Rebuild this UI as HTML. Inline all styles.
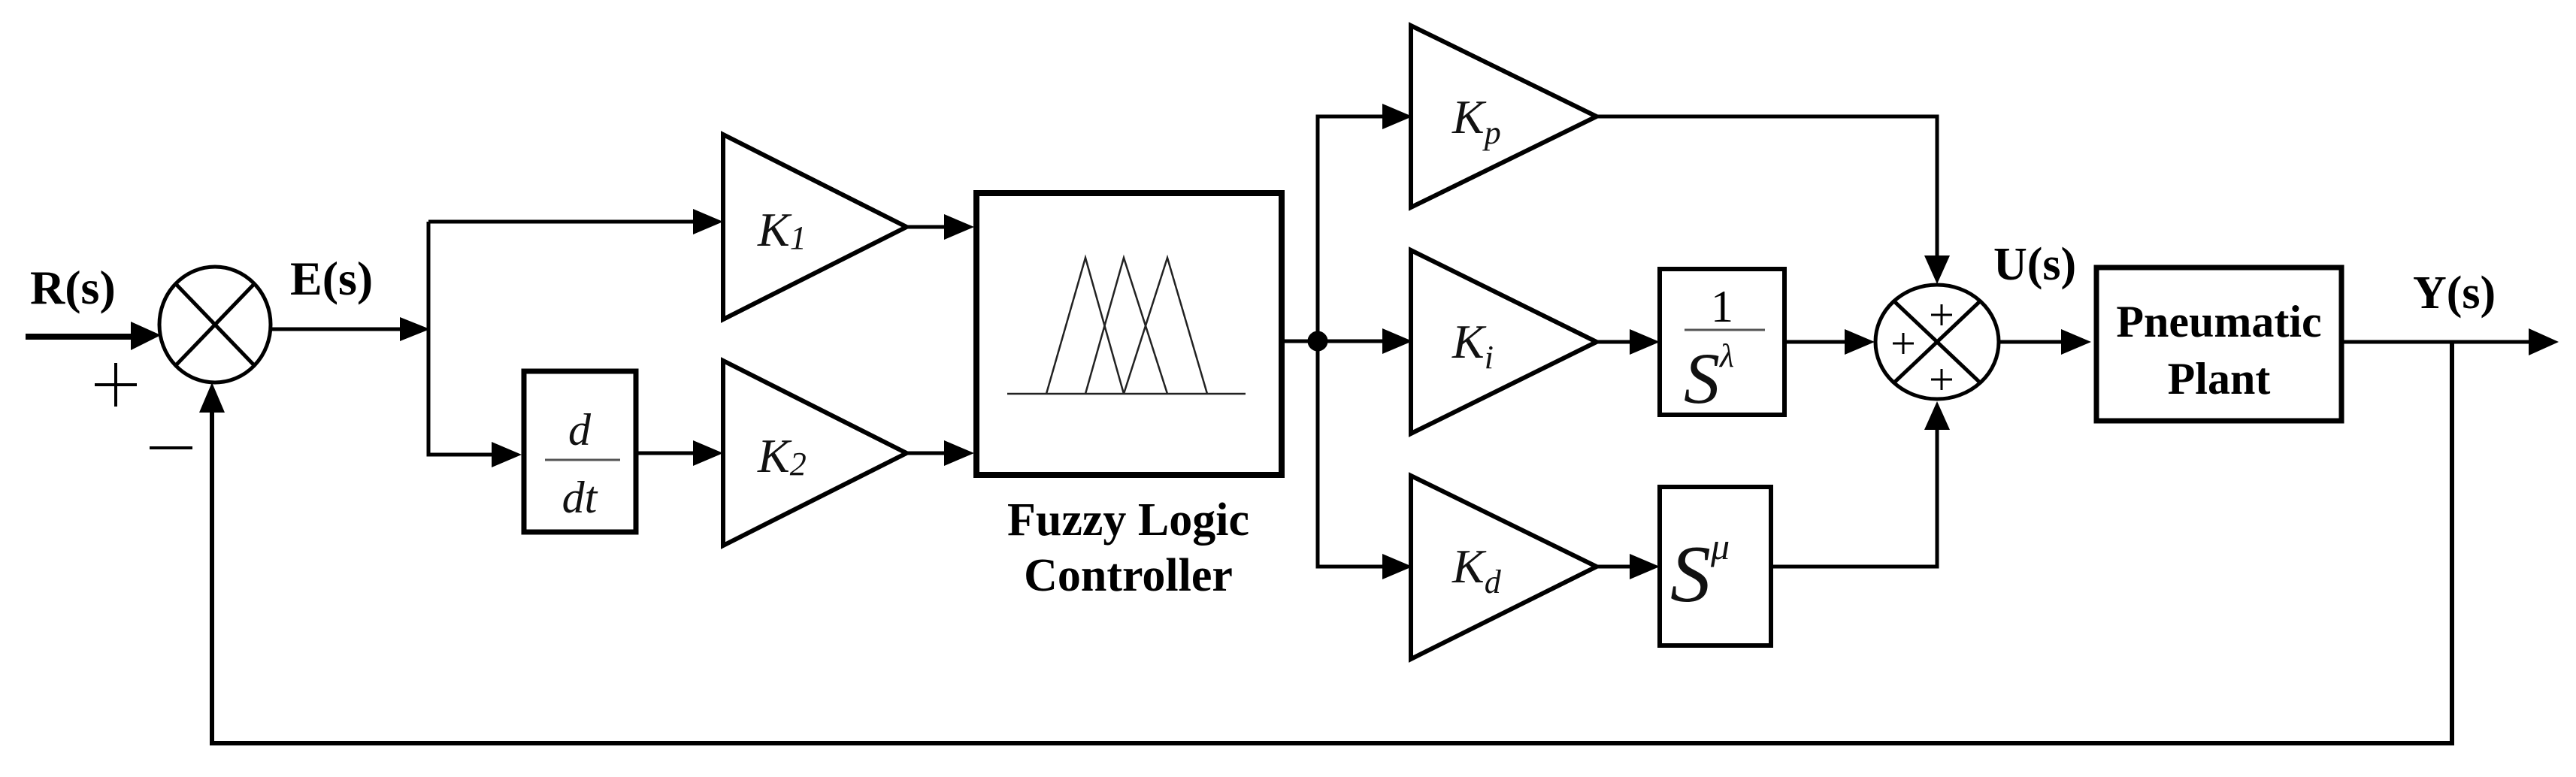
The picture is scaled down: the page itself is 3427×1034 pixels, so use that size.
<!DOCTYPE html>
<html><head><meta charset="utf-8"><style>
html,body{margin:0;padding:0;background:#fff;}
svg{display:block;}
.b{font-family:"Liberation Serif",serif;font-weight:bold;fill:#000;}
.i{font-family:"Liberation Serif",serif;font-style:italic;fill:#111;}
</style></head><body>
<svg width="3427" height="1034" viewBox="0 0 3427 1034" xmlns="http://www.w3.org/2000/svg">
<g stroke="#000" fill="none" stroke-width="5">
<line x1="34" y1="448" x2="180" y2="448" stroke-width="8"/>
<polygon points="214,446 174,428 174,466" fill="#000" stroke="none"/>
<ellipse cx="286" cy="432" rx="74" ry="77"/>
<line x1="234" y1="378" x2="338" y2="486"/>
<line x1="338" y1="378" x2="234" y2="486"/>
<line x1="360" y1="438" x2="540" y2="438"/>
<polygon points="572,438 532,422 532,454" fill="#000" stroke="none"/>
<polyline points="570,295 570,605 660,605"/>
<line x1="570" y1="295" x2="930" y2="295"/>
<polygon points="962,295 922,278 922,312" fill="#000" stroke="none"/>
<polygon points="694,605 654,588 654,622" fill="#000" stroke="none"/>
<rect x="697" y="494" width="149" height="214" stroke-width="7"/>
<line x1="725" y1="612" x2="825" y2="612" stroke-width="3" stroke="#555"/>
<line x1="846" y1="603" x2="930" y2="603"/>
<polygon points="962,603 922,586 922,620" fill="#000" stroke="none"/>
<polygon points="962,179 962,425 1206,302" stroke-width="6"/>
<polygon points="962,480 962,726 1206,603" stroke-width="6"/>
<line x1="1206" y1="302" x2="1260" y2="302"/>
<polygon points="1296,302 1256,285 1256,319" fill="#000" stroke="none"/>
<line x1="1206" y1="603" x2="1260" y2="603"/>
<polygon points="1296,603 1256,586 1256,620" fill="#000" stroke="none"/>
<rect x="1299" y="257" width="406" height="375" stroke-width="8"/>
<g stroke-width="2.5" stroke="#222">
<line x1="1340" y1="524" x2="1657" y2="524"/>
<polyline points="1392,524 1444,343 1495,524"/>
<polyline points="1444,524 1495,343 1553,524"/>
<polyline points="1495,524 1553,343 1606,524"/>
</g>
<line x1="1708" y1="454" x2="1850" y2="454"/>
<circle cx="1753" cy="454" r="11" fill="#000"/>
<polyline points="1845,155 1753,155 1753,754 1845,754"/>
<polygon points="1879,155 1839,138 1839,172" fill="#000" stroke="none"/>
<polygon points="1879,454 1839,437 1839,471" fill="#000" stroke="none"/>
<polygon points="1879,754 1839,737 1839,771" fill="#000" stroke="none"/>
<polygon points="1877,34 1877,276 2124,155" stroke-width="6"/>
<polygon points="1877,333 1877,577 2124,455" stroke-width="6"/>
<polygon points="1877,633 1877,877 2124,754" stroke-width="6"/>
<line x1="2124" y1="455" x2="2175" y2="455"/>
<polygon points="2208,455 2168,438 2168,472" fill="#000" stroke="none"/>
<line x1="2124" y1="754" x2="2175" y2="754"/>
<polygon points="2208,754 2168,737 2168,771" fill="#000" stroke="none"/>
<rect x="2208" y="358" width="166" height="194" stroke-width="6"/>
<line x1="2241" y1="439" x2="2348" y2="439" stroke-width="3" stroke="#555"/>
<rect x="2208" y="648" width="148" height="211" stroke-width="6"/>
<polyline points="2124,155 2577,155 2577,345"/>
<polygon points="2577,378 2560,340 2594,340" fill="#000" stroke="none"/>
<line x1="2374" y1="455" x2="2460" y2="455"/>
<polygon points="2494,455 2454,438 2454,472" fill="#000" stroke="none"/>
<polyline points="2356,754 2577,754 2577,568"/>
<polygon points="2577,534 2560,572 2594,572" fill="#000" stroke="none"/>
<ellipse cx="2577" cy="455" rx="82" ry="76"/>
<line x1="2520" y1="401" x2="2634" y2="509"/>
<line x1="2634" y1="401" x2="2520" y2="509"/>
<line x1="2659" y1="455" x2="2748" y2="455"/>
<polygon points="2782,455 2742,438 2742,472" fill="#000" stroke="none"/>
<rect x="2789" y="356" width="326" height="204" stroke-width="7"/>
<line x1="3118" y1="455" x2="3370" y2="455"/>
<polygon points="3404,455 3364,437 3364,473" fill="#000" stroke="none"/>
<polyline points="3262,455 3262,989 282,989 282,545" stroke-width="6"/>
<polygon points="282,509 265,549 299,549" fill="#000" stroke="none"/>
</g>
<g stroke="#000" stroke-width="4">
<line x1="126" y1="512" x2="182" y2="512"/><line x1="154" y1="483" x2="154" y2="541"/>
<line x1="199" y1="596" x2="256" y2="596"/>
<g stroke-width="3">
<line x1="2569" y1="419" x2="2597" y2="419"/><line x1="2583" y1="405" x2="2583" y2="433"/>
<line x1="2518" y1="457" x2="2546" y2="457"/><line x1="2532" y1="443" x2="2532" y2="471"/>
<line x1="2569" y1="505" x2="2597" y2="505"/><line x1="2583" y1="491" x2="2583" y2="519"/>
</g>
</g>
<text class="b" x="40" y="404" font-size="64">R(s)</text>
<text class="b" x="386" y="392" font-size="64">E(s)</text>
<text class="b" x="2652" y="372" font-size="62">U(s)</text>
<text class="b" x="3210" y="410" font-size="62">Y(s)</text>
<text class="b" x="1501" y="712" font-size="62" text-anchor="middle">Fuzzy Logic</text>
<text class="b" x="1501" y="786" font-size="62" text-anchor="middle">Controller</text>
<text class="b" x="2952" y="448" font-size="60" text-anchor="middle">Pneumatic</text>
<text class="b" x="2952" y="524" font-size="60" text-anchor="middle">Plant</text>
<text class="i" x="1008" y="327" font-size="64">K<tspan font-size="44" dy="4">1</tspan></text>
<text class="i" x="1008" y="628" font-size="64">K<tspan font-size="44" dy="4">2</tspan></text>
<text class="i" x="1932" y="177" font-size="64">K<tspan font-size="44" dy="14">p</tspan></text>
<text class="i" x="1932" y="476" font-size="64">K<tspan font-size="44" dy="14">i</tspan></text>
<text class="i" x="1932" y="775" font-size="64">K<tspan font-size="44" dy="14">d</tspan></text>
<text class="i" x="771" y="592" font-size="60" text-anchor="middle">d</text>
<text class="i" x="771" y="682" font-size="60" text-anchor="middle">dt</text>
<text x="2291" y="428" font-size="60" text-anchor="middle" font-family="Liberation Serif, serif">1</text>
<text class="i" x="2240" y="536" font-size="96">S<tspan font-size="44" dy="-48">λ</tspan></text>
<text class="i" x="2222" y="800" font-size="108">S<tspan font-size="50" dy="-56">μ</tspan></text>
</svg>
</body></html>
